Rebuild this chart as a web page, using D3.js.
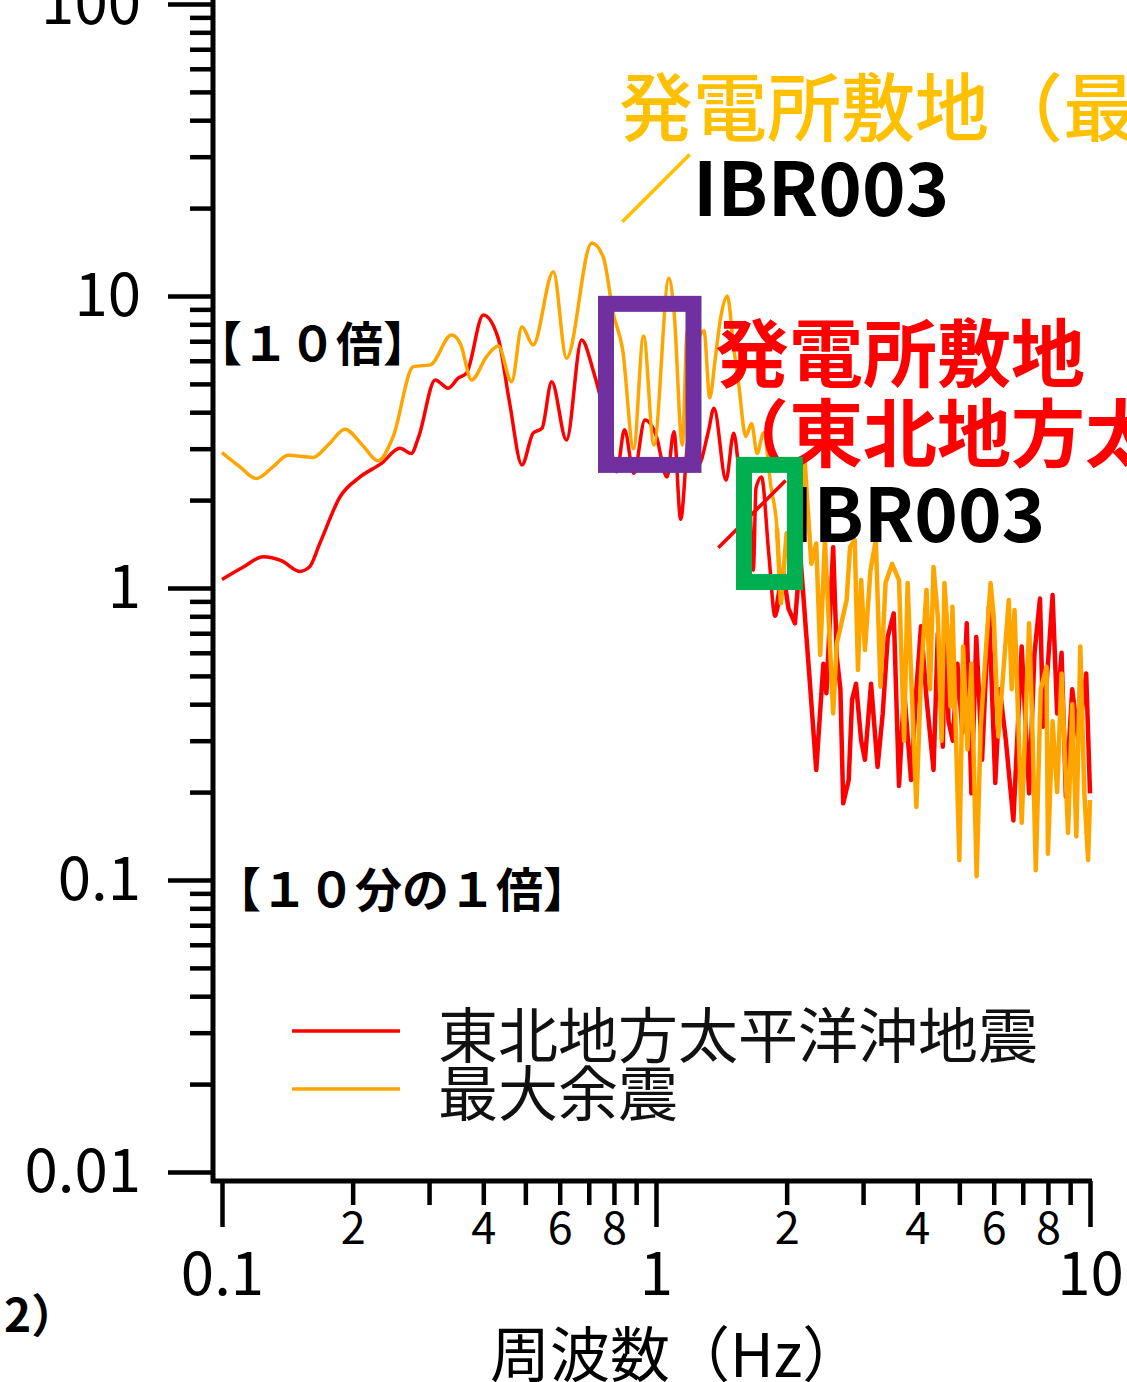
<!DOCTYPE html>
<html>
<head>
<meta charset="utf-8">
<script src="https://cdn.jsdelivr.net/npm/d3@7"></script>
<style>
  html, body { margin: 0; padding: 0; background: #fff; }
  svg { display: block; }
  text { font-family: 'Noto Sans CJK JP', sans-serif; }
</style>
</head>
<body>
<div id="chart"></div>
<script>
'use strict'

// 東北地方太平洋沖地震 (red)
var mainFreq = [0.100, 0.112, 0.1245, 0.137, 0.151, 0.159, 0.168, 0.187, 0.208, 0.233,
  0.257, 0.273, 0.284, 0.310, 0.332, 0.350, 0.366, 0.400, 0.433, 0.460,
  0.491, 0.521, 0.546, 0.575, 0.622, 0.674, 0.716, 0.744, 0.780, 0.812,
  0.846, 0.889, 0.943, 1.00, 1.06, 1.10, 1.14, 1.19, 1.25, 1.32,
  1.36, 1.45, 1.51, 1.55, 1.60, 1.63, 1.676, 1.70, 1.75, 1.82,
  1.88, 1.96, 2.02, 2.09, 2.15, 2.26, 2.34, 2.43, 2.47, 2.56,
  2.61, 2.66, 2.70, 2.78, 2.83, 2.89, 2.97, 3.03, 3.09, 3.13,
  3.24, 3.33, 3.42, 3.53, 3.63, 3.73, 3.87, 3.98, 4.08, 4.20,
  4.36, 4.46, 4.58, 4.65, 4.72, 4.83, 4.95, 5.08, 5.20, 5.33,
  5.47, 5.64, 5.85, 6.05, 6.20, 6.40, 6.66, 6.96, 7.24, 7.45,
  7.67, 7.80, 8.00, 8.20, 8.40, 8.60, 8.80, 9.10, 9.40, 9.80, 10.0]
var mainAmp = [1.07, 1.18, 1.28, 1.24, 1.14, 1.18, 1.42, 2.05, 2.40, 2.67,
  3.01, 2.89, 3.30, 5.16, 4.83, 5.23, 5.44, 8.61, 7.16, 4.30,
  2.64, 3.39, 3.52, 5.09, 3.21, 7.07, 5.58, 4.52, 3.30, 2.50,
  3.48, 2.47, 3.76, 3.34, 2.40, 3.43, 1.72, 3.25, 2.63, 3.43,
  4.13, 2.34, 3.39, 2.60, 1.68, 2.54, 1.15, 2.20, 2.40, 1.30,
  0.80, 1.15, 0.85, 0.757, 1.30, 0.484, 0.238, 0.55, 0.436, 1.38,
  0.58, 0.45, 0.183, 0.22, 0.414, 0.47, 0.30, 0.258, 0.372, 0.47,
  0.244, 0.372, 0.68, 0.819, 0.21, 0.447, 0.22, 0.447, 0.74, 0.42,
  0.238, 0.70, 0.286, 0.863, 0.35, 0.30, 0.55, 0.32, 0.757, 0.198,
  0.68, 0.258, 0.863, 0.215, 0.45, 0.30, 0.16, 0.63, 0.198, 0.60,
  0.92, 0.335, 0.55, 0.946, 0.372, 0.60, 0.193, 0.45, 0.30, 0.51, 0.198]

// 最大余震 (orange)
var afterFreq = [0.100, 0.110, 0.120, 0.131, 0.142, 0.162, 0.176, 0.192, 0.210, 0.229,
  0.248, 0.276, 0.302, 0.338, 0.354, 0.376, 0.407, 0.433, 0.465, 0.491,
  0.521, 0.580, 0.622, 0.711, 0.756, 0.797, 0.838, 0.888, 0.936, 0.989,
  1.071, 1.10, 1.15, 1.18, 1.23, 1.29, 1.33, 1.37, 1.41, 1.46,
  1.51, 1.55, 1.61, 1.66, 1.71, 1.77, 1.84, 1.90, 1.94, 2.00,
  2.09, 2.20, 2.28, 2.34, 2.39, 2.45, 2.56, 2.61, 2.75, 2.80,
  2.87, 2.92, 2.97, 3.03, 3.12, 3.21, 3.29, 3.38, 3.50, 3.63,
  3.73, 3.80, 3.87, 3.98, 4.08, 4.20, 4.28, 4.36, 4.46, 4.55,
  4.62, 4.70, 4.77, 4.82, 5.00, 5.10, 5.22, 5.33, 5.48, 5.60,
  5.75, 5.90, 6.00, 6.15, 6.50, 6.60, 6.70, 6.96, 7.24, 7.38,
  7.50, 7.70, 7.94, 8.00, 8.20, 8.40, 8.60, 8.90, 9.10, 9.30,
  9.50, 9.70, 9.90, 10.0]
var afterAmp = [2.91, 2.60, 2.37, 2.60, 2.85, 2.80, 3.10, 3.50, 3.10, 2.73,
  3.30, 5.73, 5.81, 7.35, 6.88, 5.16, 6.20, 6.74, 5.09, 7.85,
  6.80, 12.1, 6.12, 15.2, 13.6, 8.72, 6.54, 3.00, 7.30, 3.09,
  11.5, 8.90, 3.09, 7.60, 7.00, 7.60, 4.48, 6.15, 8.47, 10.0,
  6.66, 5.02, 3.30, 3.66, 2.89, 3.40, 2.22, 1.60, 0.886, 1.54,
  1.42, 2.74, 1.21, 1.42, 0.59, 1.46, 0.372, 0.646, 0.91, 1.38,
  1.46, 0.524, 1.065, 0.613, 1.15, 1.46, 0.459, 1.04, 1.21, 1.065,
  0.30, 1.04, 0.51, 0.178, 0.50, 0.985, 0.45, 1.18, 0.80, 0.30,
  1.04, 0.70, 0.393, 0.863, 0.117, 0.63, 0.28, 0.55, 0.103, 0.335,
  0.60, 1.04, 0.80, 0.31, 0.91, 0.45, 0.84, 0.157, 0.757, 0.30,
  0.108, 0.45, 0.537, 0.123, 0.35, 0.20, 0.51, 0.145, 0.40, 0.141,
  0.63, 0.20, 0.117, 0.188]

var seriesNames = ['東北地方太平洋沖地震', '最大余震']
var seriesColors = ['#ff0000', '#ffa500']

var yMajorTicks = [0.01, 0.1, 1, 10, 100]
var xMajorTicks = [0.1, 1, 10]
var xLabeledMinor = [0.2, 0.4, 0.6, 0.8, 2, 4, 6, 8]
var xTitle = '周波数（Hz）'

// highlighted ranges [f0, f1, a0, a1]
var purpleBox = [0.767, 1.22, 2.64, 9.4]
var greenBox = [1.595, 2.09, 1.048, 2.64]

var width = 1127
var height = 1382

var x = d3.scaleLog().domain([0.1, 10]).range([222, 1090])
var y = d3.scaleLog().domain([0.01, 100]).range([1172, 4])

var minorY = []
var minorX = []
;[0.01, 0.1, 1, 10].forEach(function(d) {
  for (var k = 2; k <= 9; k++) minorY.push(+(d * k).toPrecision(3))
})
;[0.1, 1].forEach(function(d) {
  for (var k = 2; k <= 9; k++) minorX.push(+(d * k).toPrecision(3))
})
var xUnlabeled = minorX.filter(function(d) {
  return xLabeledMinor.indexOf(d) < 0
})

var svg = d3
  .select('#chart')
  .append('svg')
  .attr('width', width)
  .attr('height', height)

svg
  .append('rect')
  .attr('width', width)
  .attr('height', height)
  .attr('fill', '#fff')

var axisX = x(0.1) - 9
var axisY = y(0.01) + 9

function styleAxis(g, fontSize) {
  g.select('.domain').remove()
  g.selectAll('line')
    .attr('stroke', '#000')
    .attr('stroke-width', 4.5)
  g.selectAll('text')
    .attr('fill', '#000')
    .attr('font-family', "'Noto Sans CJK JP', sans-serif")
    .attr('font-size', fontSize)
}

// y axis
svg
  .append('g')
  .attr('transform', 'translate(' + axisX + ',0)')
  .call(d3.axisLeft(y).tickValues(minorY).tickSize(23).tickFormat(''))
  .call(styleAxis, 10)

svg
  .append('g')
  .attr('transform', 'translate(' + axisX + ',0)')
  .call(
    d3
      .axisLeft(y)
      .tickValues(yMajorTicks)
      .tickSize(45)
      .tickPadding(27)
      .tickFormat(function(d) {
        return String(d)
      })
  )
  .call(styleAxis, 60)

// x axis
svg
  .append('g')
  .attr('transform', 'translate(0,' + axisY + ')')
  .call(d3.axisBottom(x).tickValues(xUnlabeled).tickSize(24).tickFormat(''))
  .call(styleAxis, 10)

svg
  .append('g')
  .attr('transform', 'translate(0,' + axisY + ')')
  .call(
    d3
      .axisBottom(x)
      .tickValues(xLabeledMinor)
      .tickSize(24)
      .tickPadding(7)
      .tickFormat(function(d) {
        return d < 1 ? String(Math.round(d * 10)) : String(d)
      })
  )
  .call(styleAxis, 45)

svg
  .append('g')
  .attr('transform', 'translate(0,' + axisY + ')')
  .call(
    d3
      .axisBottom(x)
      .tickValues(xMajorTicks)
      .tickSize(46)
      .tickPadding(25)
      .tickFormat(function(d) {
        return String(d)
      })
  )
  .call(styleAxis, 60)

svg
  .append('line')
  .attr('x1', axisX)
  .attr('x2', axisX)
  .attr('y1', 0)
  .attr('y2', axisY + 2)
  .attr('stroke', '#000')
  .attr('stroke-width', 5)

svg
  .append('line')
  .attr('x1', axisX - 2)
  .attr('x2', x(10) + 2)
  .attr('y1', axisY)
  .attr('y2', axisY)
  .attr('stroke', '#000')
  .attr('stroke-width', 5)

svg
  .append('text')
  .attr('x', 490)
  .attr('y', 1350)
  .attr('dominant-baseline', 'central')
  .attr('font-size', 60)
  .attr('fill', '#000')
  .text(xTitle)

svg
  .append('text')
  .attr('x', 4)
  .attr('y', 1312)
  .attr('dominant-baseline', 'central')
  .attr('font-size', 46)
  .attr('font-weight', 700)
  .attr('fill', '#000')
  .text('2）')

// spectra: smooth below ~1.9 Hz, jagged above
var smoothLine = d3
  .line()
  .x(function(d) {
    return x(d[0])
  })
  .y(function(d) {
    return y(d[1])
  })
  .curve(d3.curveMonotoneX)

var jaggedLine = d3
  .line()
  .x(function(d) {
    return x(d[0])
  })
  .y(function(d) {
    return y(d[1])
  })

var split = 1.9

var series = [d3.zip(mainFreq, mainAmp), d3.zip(afterFreq, afterAmp)]

var spec = svg
  .selectAll('g.spec')
  .data(series)
  .enter()
  .append('g')
  .attr('class', 'spec')
  .attr('fill', 'none')
  .attr('stroke', function(d, i) {
    return seriesColors[i]
  })
  .attr('stroke-linejoin', 'round')

spec
  .append('path')
  .attr('d', function(d) {
    var lastLow = d3.max(d, function(p) {
      return p[0] <= split ? p[0] : null
    })
    return smoothLine(
      d.filter(function(p) {
        return p[0] <= split || p[0] === lastLow
      }).concat(
        d.filter(function(p) {
          return p[0] > split
        }).slice(0, 1)
      )
    )
  })
  .attr('stroke-width', 3.5)

spec
  .append('path')
  .attr('d', function(d) {
    var idx = d.findIndex(function(p) {
      return p[0] > split
    })
    return jaggedLine(d.slice(idx - 1))
  })
  .attr('stroke-width', 4.5)

// legend
var legend = svg
  .selectAll('g.legend')
  .data(seriesNames)
  .enter()
  .append('g')
  .attr('class', 'legend')
  .attr('transform', function(d, i) {
    return 'translate(292,' + (1031 + i * 58) + ')'
  })

legend
  .append('line')
  .attr('x1', 0)
  .attr('x2', 108)
  .attr('stroke', function(d, i) {
    return seriesColors[i]
  })
  .attr('stroke-width', 3.5)

legend
  .append('text')
  .attr('x', 146)
  .attr('dominant-baseline', 'central')
  .attr('font-size', 60)
  .attr('fill', '#111')
  .text(function(d) {
    return d
  })

// annotations
function note(xp, yp, size, weight, parts) {
  var t = svg
    .append('text')
    .attr('x', xp)
    .attr('y', yp)
    .attr('dominant-baseline', 'central')
    .attr('font-size', size)
    .attr('font-weight', weight)
  parts.forEach(function(p) {
    t.append('tspan')
      .attr('fill', p[1])
      .text(p[0])
  })
}

note(195, 340, 47, 700, [['【１０倍】', '#000']])
note(214, 886, 47, 700, [['【１０分の１倍】', '#000']])

note(619, 102, 74, 500, [['発電所敷地（最大余震）', '#ffc000']])
note(619, 183, 74, 700, [['／', '#ffc000'], ['IBR003', '#000']])

note(715, 348, 74, 700, [['発電所敷地', '#ff0000']])
note(715, 428, 74, 700, [['（東北地方太平洋沖地震）', '#ff0000']])
note(715, 509, 74, 700, [['／', '#ff0000'], ['IBR003', '#000']])

// boxes
var boxes = [
  { r: purpleBox, color: '#7030a0' },
  { r: greenBox, color: '#00b050' }
]

svg
  .selectAll('rect.box')
  .data(boxes)
  .enter()
  .append('rect')
  .attr('class', 'box')
  .attr('x', function(d) {
    return x(d.r[0])
  })
  .attr('y', function(d) {
    return y(d.r[3])
  })
  .attr('width', function(d) {
    return x(d.r[1]) - x(d.r[0])
  })
  .attr('height', function(d) {
    return y(d.r[2]) - y(d.r[3])
  })
  .attr('fill', 'none')
  .attr('stroke', function(d) {
    return d.color
  })
  .attr('stroke-width', 16)
</script>
</body>
</html>
